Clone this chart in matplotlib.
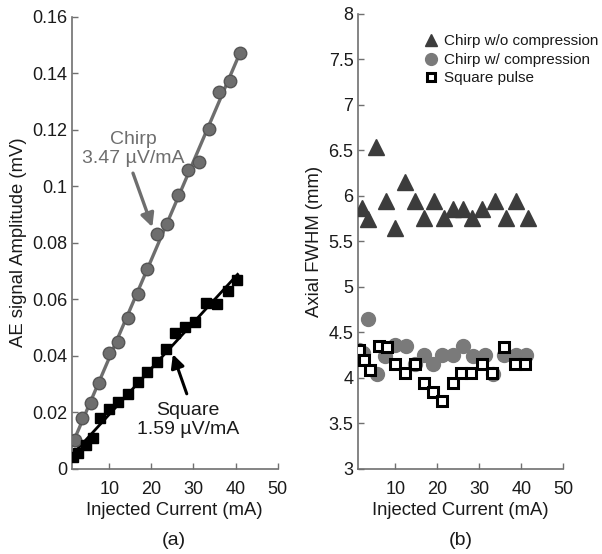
import matplotlib
matplotlib.use("Agg")
from matplotlib import pyplot as plt
import numpy as np

plt.rcParams['font.family'] = ['Liberation Sans', 'DejaVu Sans']

# (a) AE signal amplitude vs injected current
chirp_x = [1.8, 3.4, 5.6, 7.5, 9.8, 12.1, 14.5, 16.8, 19.0, 21.3, 23.8, 26.4,
           28.7, 31.2, 33.6, 36.1, 38.6, 41.0]
chirp_amp = [0.0103, 0.0178, 0.0233, 0.0304, 0.0408, 0.0447, 0.0535, 0.0620,
             0.0707, 0.0829, 0.0866, 0.0968, 0.1057, 0.1086, 0.1201, 0.1334,
             0.1372, 0.1472]
square_x = [1.4, 2.6, 4.5, 6.2, 7.8, 10.0, 12.1, 14.5, 16.7, 19.0, 21.3, 23.5,
            25.6, 28.0, 30.4, 32.9, 35.6, 38.3, 40.3]
square_amp = [0.0042, 0.0057, 0.0083, 0.0107, 0.0178, 0.0213, 0.0236, 0.0266,
              0.0307, 0.0343, 0.0376, 0.0422, 0.0479, 0.0502, 0.0520, 0.0585,
              0.0582, 0.0629, 0.0668]

# (b) Axial FWHM vs injected current
tri_x = [2.1, 3.5, 5.5, 7.7, 10.0, 12.3, 14.6, 16.8, 19.1, 21.5, 23.7, 26.1,
         28.3, 30.7, 33.6, 36.4, 38.6, 41.6]
tri_fwhm = [5.87, 5.74, 6.54, 5.94, 5.65, 6.15, 5.94, 5.76, 5.94, 5.76, 5.85,
            5.85, 5.76, 5.85, 5.94, 5.76, 5.94, 5.76]
circ_x = [1.3, 2.3, 3.5, 5.6, 7.5, 9.8, 12.5, 14.6, 16.7, 19.0, 21.2, 23.6,
          26.1, 28.5, 31.3, 33.2, 35.8, 38.6, 41.2]
circ_fwhm = [4.31, 4.27, 4.64, 4.04, 4.24, 4.36, 4.35, 4.15, 4.25, 4.15, 4.25,
             4.25, 4.35, 4.24, 4.25, 4.04, 4.25, 4.25, 4.25]
sq_x = [1.3, 2.5, 4.0, 6.0, 8.0, 9.8, 12.2, 14.6, 16.7, 19.0, 21.2, 23.6, 25.7,
        28.1, 30.5, 33.1, 35.8, 38.4, 40.8]
sq_fwhm = [4.30, 4.20, 4.08, 4.35, 4.34, 4.15, 4.05, 4.15, 3.94, 3.84, 3.74,
           3.94, 4.05, 4.05, 4.15, 4.05, 4.34, 4.15, 4.15]

gray = '#6e6e6e'
spine_col = '#707070'
txt = '#1a1a1a'

fig = plt.figure(figsize=(6.02, 5.54), dpi=100)
ax_a = fig.add_axes([0.119, 0.154, 0.342, 0.816])
ax_b = fig.add_axes([0.594, 0.154, 0.342, 0.821])


def style(ax):
    for s in ['top', 'right']:
        ax.spines[s].set_visible(False)
    for s in ['left', 'bottom']:
        ax.spines[s].set_color(spine_col)
        ax.spines[s].set_linewidth(1.2)
    ax.tick_params(direction='in', length=4, width=1, color=spine_col,
                   labelsize=13, labelcolor=txt)
    ax.tick_params(axis='x', pad=9)
    ax.tick_params(axis='y', pad=3)
    ax.set_xlim(1, 50)
    ax.set_xticks([10, 20, 30, 40, 50])
    ax.set_xlabel("Injected Current (mA)", fontsize=13.3, color=txt, labelpad=3)


# ---- panel (a)
style(ax_a)
xx = np.array([1.0, 41.3])
p_chirp = np.polyfit(chirp_x, chirp_amp, 1)
p_sq = np.polyfit(square_x, square_amp, 1)
ax_a.plot(xx, np.polyval(p_chirp, xx), color=gray, lw=2.4, zorder=2)
ax_a.plot(chirp_x, chirp_amp, 'o', color=gray, mec='#555555', ms=9, zorder=3)
ax_a.plot(np.array([1.0, 40.5]), np.polyval(p_sq, np.array([1.0, 40.5])),
          color='black', lw=2, zorder=2)
ax_a.plot(square_x, square_amp, 's', color='black', ms=7, zorder=3)
ax_a.set_ylim(0, 0.16)
ax_a.set_yticks(np.arange(0, 0.161, 0.02))
ax_a.set_yticklabels(['0', '0.02', '0.04', '0.06', '0.08', '0.1', '0.12',
                      '0.14', '0.16'])
ax_a.set_ylabel("AE signal Amplitude (mV)", fontsize=13.3, color=txt, labelpad=4)

ax_a.text(15.7, 0.1131, "Chirp\n3.47 \u00b5V/mA", ha='center', va='center',
          fontsize=14, color=gray, linespacing=1.15)
ax_a.annotate("", xy=(20.2, 0.0855), xytext=(15.6, 0.1046),
              arrowprops=dict(arrowstyle='-|>', color=gray, lw=2.4,
                              mutation_scale=20, shrinkA=0, shrinkB=0))
ax_a.text(28.7, 0.0172, "Square\n1.59 \u00b5V/mA", ha='center', va='center',
          fontsize=14, color=txt, linespacing=1.15)
ax_a.annotate("", xy=(25.1, 0.0405), xytext=(28.4, 0.0265),
              arrowprops=dict(arrowstyle='-|>', color='black', lw=2.2,
                              mutation_scale=20, shrinkA=0, shrinkB=0))

# ---- panel (b)
style(ax_b)
ax_b.plot(tri_x, tri_fwhm, '^', color='#3c3c3c', ms=11, ls='none',
          label='Chirp w/o compression', zorder=3)
ax_b.plot(circ_x, circ_fwhm, 'o', color='#7a7a7a', ms=10, ls='none',
          label='Chirp w/ compression', zorder=3)
ax_b.plot(sq_x, sq_fwhm, 's', mfc='white', mec='black', mew=2.2, ms=7.5,
          ls='none', label='Square pulse', zorder=4)
ax_b.set_ylim(3, 8)
ax_b.set_yticks(np.arange(3, 8.01, 0.5))
ax_b.set_yticklabels(['3', '3.5', '4', '4.5', '5', '5.5', '6', '6.5', '7',
                      '7.5', '8'])
ax_b.set_ylabel("Axial FWHM (mm)", fontsize=13.3, color=txt, labelpad=4)
leg = ax_b.legend(loc='upper left', bbox_to_anchor=(0.32, 0.955), frameon=False,
                  fontsize=11, handlelength=1.0, handletextpad=0.35,
                  labelspacing=0.3, borderpad=0, borderaxespad=0, markerscale=0.85)
for t in leg.get_texts():
    t.set_color(txt)

fig.text(0.289, 0.0235, "(a)", ha='center', va='center', fontsize=14, color=txt)
fig.text(0.765, 0.0235, "(b)", ha='center', va='center', fontsize=14, color=txt)

fig.savefig("out.png", dpi=100)
